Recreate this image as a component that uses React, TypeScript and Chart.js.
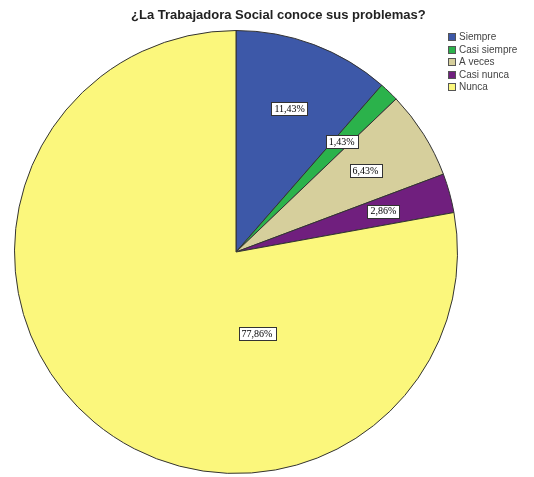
import React, { useEffect, useRef } from "react";
import { Chart, registerables } from "chart.js";

Chart.register(...registerables);

const TITLE = "¿La Trabajadora Social conoce sus problemas?";
const categories = ["Siempre", "Casi siempre", "A veces", "Casi nunca", "Nunca"];
const values = [11.43, 1.43, 6.43, 2.86, 77.86];
const valueLabels = ["11,43%", "1,43%", "6,43%", "2,86%", "77,86%"];
const colors = ["#3d58a8", "#2bb24b", "#d6cf9c", "#701f7e", "#fbf77c"];

const overlayPlugin = {
  id: "overlay",
  afterDatasetsDraw(chart: any) {
    const ctx = chart.ctx;
    const meta = chart.getDatasetMeta(0);
    ctx.save();
    // slice labels
    meta.data.forEach((arc: any, i: number) => {
      const { x, y, startAngle, endAngle, outerRadius } = arc.getProps(
        ["x", "y", "startAngle", "endAngle", "outerRadius"],
        true
      );
      const span = endAngle - startAngle;
      let mid = (startAngle + endAngle) / 2;
      let rf = 0.69;
      if (span > Math.PI) {
        mid = Math.PI * 0.42;
        rf = 0.38;
      }
      const lx = x + Math.cos(mid) * outerRadius * rf;
      const ly = y + Math.sin(mid) * outerRadius * rf;
      ctx.font = "10px 'Liberation Serif'";
      const tw = ctx.measureText(valueLabels[i]).width;
      const bw = tw + 6;
      const bh = 13;
      ctx.fillStyle = "#ffffff";
      ctx.fillRect(Math.round(lx - bw / 2), Math.round(ly - bh / 2), Math.round(bw), bh);
      ctx.strokeStyle = "#333333";
      ctx.lineWidth = 1;
      ctx.strokeRect(Math.round(lx - bw / 2) + 0.5, Math.round(ly - bh / 2) + 0.5, Math.round(bw), bh);
      ctx.fillStyle = "#000000";
      ctx.textAlign = "center";
      ctx.textBaseline = "middle";
      ctx.fillText(valueLabels[i], lx, ly + 0.5);
    });
    // title
    ctx.font = "bold 13px 'Liberation Sans'";
    ctx.fillStyle = "#222222";
    ctx.textAlign = "left";
    ctx.textBaseline = "middle";
    ctx.fillText(TITLE, 131, 15);
    // legend
    categories.forEach((c, i) => {
      const by = 33 + i * 12.5;
      ctx.fillStyle = colors[i];
      ctx.fillRect(448, Math.round(by), 8, 8);
      ctx.strokeStyle = "#555555";
      ctx.lineWidth = 1;
      ctx.strokeRect(448.5, Math.round(by) + 0.5, 7, 7);
      ctx.fillStyle = "#444444";
      ctx.font = "10px 'Liberation Sans'";
      ctx.textBaseline = "middle";
      ctx.fillText(c, 459, Math.round(by) + 4.5);
    });
    ctx.restore();
  },
};

export default function App() {
  const ref = useRef<HTMLCanvasElement>(null);
  useEffect(() => {
    document.body.style.margin = "0";
    const chart = new Chart(ref.current as HTMLCanvasElement, {
      type: "pie",
      data: {
        labels: categories,
        datasets: [
          {
            data: values,
            backgroundColor: colors,
            borderColor: "#333333",
            borderWidth: 1,
          },
        ],
      },
      options: {
        responsive: false,
        animation: false,
        layout: { padding: { left: 14, right: 76, top: 30, bottom: 3 } },
        plugins: {
          legend: { display: false },
          tooltip: { enabled: false },
          title: { display: false },
        },
      },
      plugins: [overlayPlugin],
    });
    return () => chart.destroy();
  }, []);
  return (
    <div style={{ width: 534, height: 477, background: "#fff" }}>
      <canvas ref={ref} width={534} height={477} style={{ display: "block" }} />
    </div>
  );
}
